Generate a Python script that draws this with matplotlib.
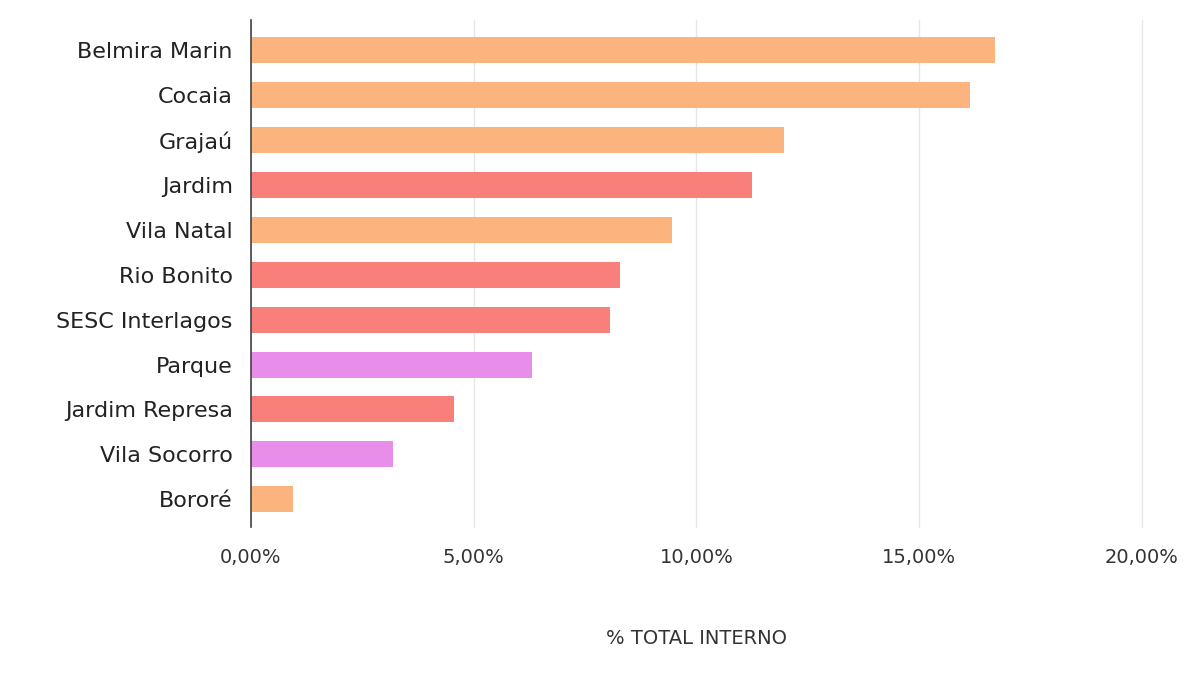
import matplotlib.pyplot as plt
import matplotlib.ticker as mticker

# values (percent of internal total)
bairros = ['Belmira Marin', 'Cocaia', 'Grajaú', 'Jardim', 'Vila Natal', 'Rio Bonito',
           'SESC Interlagos', 'Parque', 'Jardim Represa', 'Vila Socorro', 'Bororé']
pct_total = [16.71, 16.14, 11.96, 11.25, 9.45, 8.28, 8.05, 6.31, 4.55, 3.18, 0.95]
grupo = ['laranja', 'laranja', 'laranja', 'vermelho', 'laranja', 'vermelho',
         'vermelho', 'violeta', 'vermelho', 'violeta', 'laranja']
xticks = [0, 5, 10, 15, 20]

cores = {'laranja': '#fcb47f', 'vermelho': '#f97f7b', 'violeta': '#e88de9'}

plt.rcParams['font.family'] = ['DejaVu Sans']

fig = plt.figure(figsize=(11.89, 6.74), dpi=100)
ax = fig.add_axes([0.211, 0.218, 0.7495, 0.752])

ypos = list(range(len(bairros)))
ax.barh(ypos, pct_total, height=0.58, color=[cores[g] for g in grupo],
        edgecolor='none', zorder=3)

ax.set_xlim(0, 20)
ax.set_ylim(10.62, -0.67)
ax.set_yticks(ypos)
ax.set_yticklabels(bairros, fontsize=16, color='#222222')
ax.set_xticks(xticks)
ax.xaxis.set_major_formatter(mticker.FuncFormatter(lambda v, p: f'{v:.2f}%'.replace('.', ',')))
ax.tick_params(axis='x', labelsize=14, colors='#333333', length=0, pad=15)
ax.tick_params(axis='y', length=0, pad=13)

ax.grid(axis='x', color='#e6e6e6', linewidth=1, zorder=0)
for gl in ax.get_xgridlines():
    gl.set_clip_on(False)
for s in ['top', 'right', 'bottom']:
    ax.spines[s].set_visible(False)
ax.spines['left'].set_color('#444444')
ax.spines['left'].set_linewidth(1.2)
ax.spines['left'].set_zorder(4)

ax.set_xlabel('% TOTAL INTERNO', fontsize=14, color='#333333', labelpad=45)

fig.savefig('out.png', dpi=100)
